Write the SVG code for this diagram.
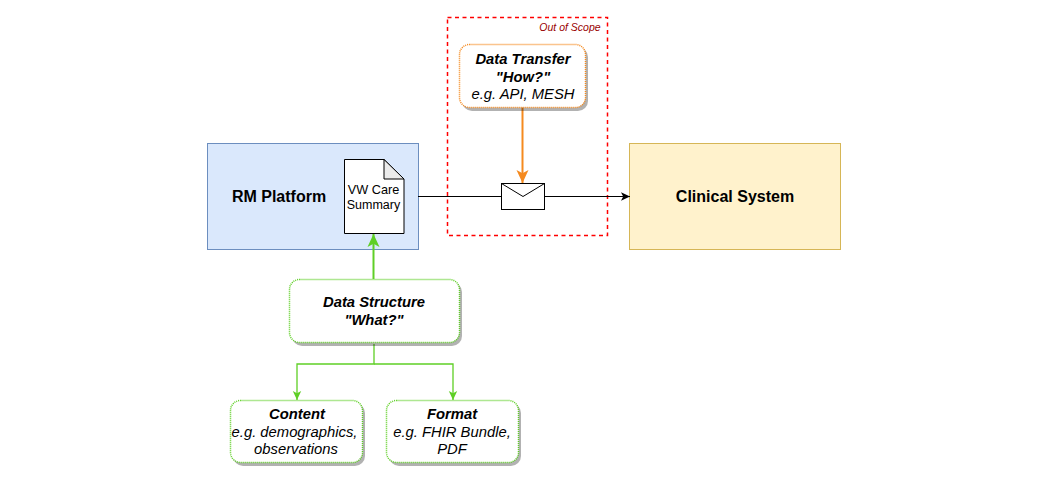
<svg xmlns="http://www.w3.org/2000/svg" width="1048" height="494" viewBox="0 0 1048 494">
<style>
text{font-family:"Liberation Sans",Arial,sans-serif;text-anchor:middle;fill:#000}
.t{font-size:14.800px;font-style:italic}
.b{font-weight:bold}
.g{fill:#fff;stroke:#5fcf26;stroke-width:1.500;stroke-dasharray:1 1}
.o{fill:#fff;stroke:#f58a1f;stroke-width:1.500;stroke-dasharray:1 1}
.s{fill:#000;fill-opacity:.3;stroke:none}
.c{fill:none;stroke-width:1.300}
.scope{fill:none;stroke:#ff0000;stroke-width:1.500;stroke-dasharray:4 3.500}
.scope-label{font-size:10.500px;font-style:italic;fill:#990000}
</style>
<defs>
<marker id="ak" markerUnits="userSpaceOnUse" markerWidth="10" markerHeight="10" refX="9" refY="5" orient="auto"><path d="M0 .8L9 5L0 9.200L2.200 5Z" fill="#000"/></marker>
<marker id="ag" markerUnits="userSpaceOnUse" markerWidth="10" markerHeight="10" refX="9" refY="5" orient="auto"><path d="M0 .8L9 5L0 9.200L2.200 5Z" fill="#5fcf26"/></marker>
<marker id="agb" markerUnits="userSpaceOnUse" markerWidth="14" markerHeight="14" refX="13" refY="7" orient="auto"><path d="M0 1L13 7L0 13L3.200 7Z" fill="#5fcf26"/></marker>
<marker id="aob" markerUnits="userSpaceOnUse" markerWidth="14" markerHeight="14" refX="13" refY="7" orient="auto"><path d="M0 1L13 7L0 13L3.200 7Z" fill="#f58a1f"/></marker>
</defs>
<g id="out-of-scope">
<path class="scope" d="M447.500 17.500H607.500V235.500H447.500Z"/>
<text class="scope-label" x="570" y="31">Out of Scope</text>
</g>
<g id="rm-platform">
<rect x="207.500" y="143.500" width="211" height="106" fill="#dae8fc" stroke="#6c8ebf"/>
<text x="279" y="202" font-size="16" class="b">RM Platform</text>
</g>
<g id="clinical-system">
<rect x="629.500" y="143.500" width="211" height="106" fill="#fff2cc" stroke="#d6b656"/>
<text x="735" y="202" font-size="16" class="b">Clinical System</text>
</g>
<g id="connectors">
<path fill="none" stroke="#000" d="M418 196.500H502M544 196.500H630" marker-end="url(#ak)"/>
<path class="c" d="M522.500 107V183" stroke="#f58a1f" style="stroke-width:2" marker-end="url(#aob)"/>
<path class="c" d="M373.500 279V234" stroke="#5fcf26" style="stroke-width:2" marker-end="url(#agb)"/>
<path class="c" d="M374 344V364H297V400" stroke="#5fcf26" marker-end="url(#ag)"/>
<path class="c" d="M374 364H453V400" stroke="#5fcf26" marker-end="url(#ag)"/>
</g>
<g id="vw-care-summary">
<path d="M344.500 159.500H384L404 179V233.500H344.500Z" fill="#fff" stroke="#000"/>
<path d="M384 159.500V179H404Z" fill="#ebebeb" stroke="#000"/>
<text x="373.500" y="194" font-size="12.700">VW Care</text>
<text x="373.500" y="209" font-size="12.500">Summary</text>
</g>
<g id="envelope">
<rect x="501.500" y="183.500" width="43" height="26" fill="#fff" stroke="#000"/>
<path d="M501.500 183.500L523 196.500L544.500 183.500" fill="none" stroke="#000"/>
</g>
<g id="data-transfer">
<rect class="s" x="462" y="47" width="126" height="64" rx="10"/>
<rect class="o" x="459.500" y="44.500" width="126" height="63" rx="10"/>
<text x="523" y="64" class="t b">Data Transfer</text>
<text x="523" y="82" class="t b">"How?"</text>
<text x="523" y="99" class="t">e.g. API, MESH</text>
</g>
<g id="data-structure">
<rect class="s" x="292" y="282" width="170" height="64" rx="10"/>
<rect class="g" x="289.500" y="279.500" width="170" height="63" rx="10"/>
<text x="374" y="307" class="t b">Data Structure</text>
<text x="374" y="325" class="t b">"What?"</text>
</g>
<g id="content">
<rect class="s" x="233" y="403" width="132" height="63" rx="10"/>
<rect class="g" x="230.500" y="400.500" width="132" height="62" rx="10"/>
<text x="297" y="419" class="t b">Content</text>
<text x="294.500" y="437" class="t">e.g. demographics,</text>
<text x="296" y="454" class="t">observations</text>
</g>
<g id="format">
<rect class="s" x="389" y="403" width="132" height="63" rx="10"/>
<rect class="g" x="386.500" y="400.500" width="132" height="62" rx="10"/>
<text x="452" y="419" class="t b">Format</text>
<text x="452" y="437" class="t">e.g. FHIR Bundle,</text>
<text x="452" y="454" class="t">PDF</text>
</g>
</svg>
